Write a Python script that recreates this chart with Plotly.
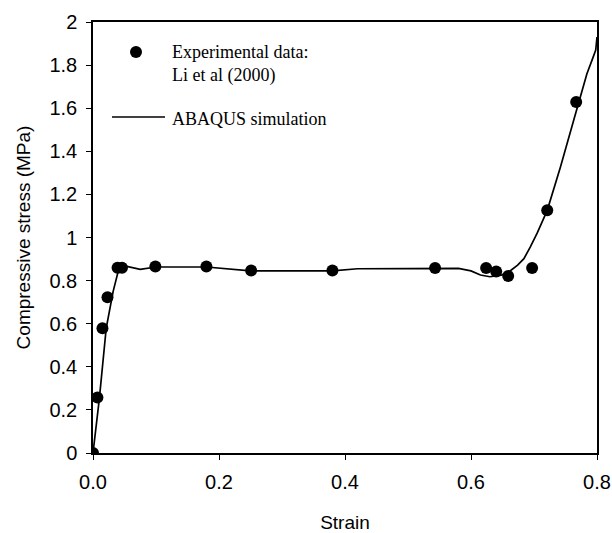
import plotly.graph_objects as go

# Experimental data: Li et al (2000)
exp_strain = [0.0, 0.007, 0.015, 0.023, 0.039, 0.046, 0.099, 0.18, 0.251, 0.38,
              0.543, 0.624, 0.640, 0.659, 0.697, 0.721, 0.767]
exp_stress = [0.0, 0.258, 0.579, 0.723, 0.86, 0.86, 0.865, 0.865, 0.847, 0.847,
              0.858, 0.858, 0.842, 0.821, 0.858, 1.126, 1.629]

# ABAQUS simulation
sim_strain = [0.0, 0.01, 0.021, 0.032, 0.042, 0.05, 0.075, 0.1, 0.18, 0.22, 0.25,
              0.38, 0.42, 0.58, 0.60, 0.615, 0.630, 0.648, 0.662, 0.674, 0.684,
              0.694, 0.705, 0.721, 0.742, 0.763, 0.784, 0.793, 0.798, 0.8]
sim_stress = [0.0, 0.25, 0.58, 0.75, 0.866, 0.868, 0.852, 0.863, 0.863, 0.852, 0.845,
              0.845, 0.855, 0.857, 0.845, 0.826, 0.818, 0.825, 0.845, 0.872, 0.902,
              0.955, 1.02, 1.126, 1.327, 1.544, 1.76, 1.83, 1.87, 1.93]

x_ticks = [0.0, 0.2, 0.4, 0.6, 0.8]
y_ticks = [0, 0.2, 0.4, 0.6, 0.8, 1, 1.2, 1.4, 1.6, 1.8, 2]

legend_exp = "Experimental data:<br>Li et al (2000)"
legend_sim = "ABAQUS simulation"

# plot area in pixels (for placing the hand-made legend)
L, R, T, B = 93, 597, 22, 453
def px(x):
    return (x - L) / (R - L)
def py(y):
    return (B - y) / (B - T)

fig = go.Figure()
fig.add_trace(go.Scatter(
    x=exp_strain, y=exp_stress, mode="markers", name=legend_exp, showlegend=False,
    marker=dict(color="black", size=12, symbol="circle"),
))
fig.add_trace(go.Scatter(
    x=sim_strain, y=sim_stress, mode="lines", name=legend_sim, showlegend=False,
    line=dict(color="black", width=1.7),
))

# legend glyphs
fig.add_shape(type="circle", xref="paper", yref="paper",
              x0=px(130), x1=px(142), y0=py(58), y1=py(46),
              fillcolor="black", line=dict(color="black", width=0))
fig.add_shape(type="line", xref="paper", yref="paper",
              x0=px(112), x1=px(165), y0=py(117), y1=py(117),
              line=dict(color="black", width=1.7))
legend_font = dict(family="Liberation Serif, Times New Roman", size=18, color="black")
fig.add_annotation(xref="paper", yref="paper", x=px(170), y=py(40), xanchor="left", yanchor="top",
                   text=legend_exp, showarrow=False, align="left", font=legend_font)
fig.add_annotation(xref="paper", yref="paper", x=px(170), y=py(119), xanchor="left", yanchor="middle",
                   text=legend_sim, showarrow=False, align="left", font=legend_font)

axis_common = dict(
    showline=True, linecolor="black", linewidth=1.5, mirror=True,
    ticks="outside", ticklen=5, tickcolor="black", tickwidth=1,
    showgrid=False, zeroline=False, automargin=False,
    tickfont=dict(family="Liberation Sans, Arial", size=20, color="black"),
)

fig.update_layout(
    width=612, height=533,
    margin=dict(l=L, r=612 - R, t=T, b=533 - B),
    paper_bgcolor="white", plot_bgcolor="white",
    showlegend=False,
    xaxis=dict(
        range=[0, 0.8], tickvals=x_ticks, tickformat=".1f",
        title=dict(text="Strain", font=dict(family="Liberation Sans, Arial", size=19, color="black"), standoff=27),
        ticklabelstandoff=5,
        **axis_common,
    ),
    yaxis=dict(
        range=[0, 2], tickvals=y_ticks,
        title=dict(text="Compressive stress (MPa)", font=dict(family="Liberation Sans, Arial", size=19, color="black"), standoff=14),
        ticklabelstandoff=5,
        **axis_common,
    ),
)

fig.write_html("out.html")
